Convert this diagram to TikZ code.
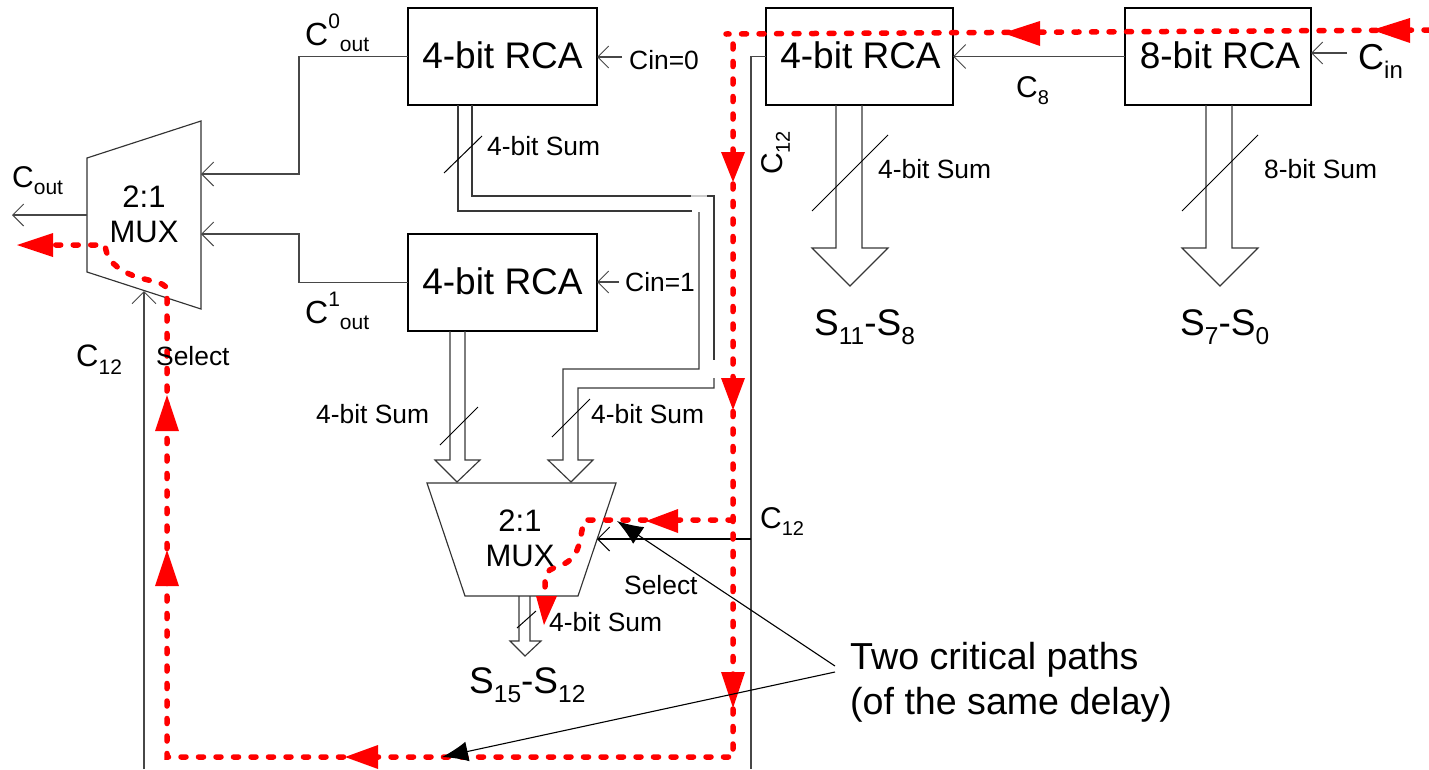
\documentclass[tikz,border=0pt]{standalone}
\usepackage{fontspec}
\setmainfont{Liberation Sans}
\usetikzlibrary{arrows.meta}
\newcommand\fsz[1]{\fontsize{#1}{#1}\selectfont}
\newcommand\lowr[2]{\raisebox{-.26em}{\fsz{#1}#2}}
\newcommand\Sbit[1]{{\fsz{37}S\lowr{24.5}{#1}}}
\tikzset{
  x=1pt,y=-1pt,
  wire/.style={line width=1.15pt,draw=black!72},
  bus/.style={line width=1.15pt,draw=black!78},
  opentip/.style={-{Straight Barb[length=12pt,width=24pt,line width=1pt]}},
  smalltip/.style={-{Straight Barb[length=11pt,width=22pt,line width=1pt]}},
  rca/.style={draw=black,line width=2.6pt,inner sep=0pt,outer sep=0pt,minimum height=97pt},
  rcatext/.style={inner sep=0pt,font=\fsz{37}},
  muxbody/.style={draw=black!80,line width=1.15pt,fill=white},
  muxtext/.style={inner sep=0pt,align=center,font=\fsz{31}},
  lab/.style={anchor=base west,inner sep=0pt,font=\fsz{26.4}},
  redpath/.style={draw=red,line width=5.5pt,line cap=round,dash pattern=on 5pt off 12.5pt},
  redhead/.style={fill=red,draw=none},
  pointer/.style={line width=1.1pt,-{Latex[length=26pt,width=20pt]}}
}
\begin{document}
\begin{tikzpicture}
\useasboundingbox (0,0) rectangle (1429,769);
\clip (0,0) rectangle (1429,769);
% boxes
\node[rca,minimum width=189pt] (rcaA) at (502.5,56.5) {};
\node[rca,minimum width=189pt] (rcaB) at (502.5,282.5) {};
\node[rca,minimum width=187pt] (rcaC) at (859.5,56.5) {};
\node[rca,minimum width=186pt] (rcaD) at (1218,56.5) {};
% muxes
\draw[muxbody] (87,158) -- (201,121) -- (201,309) -- (87,272) -- cycle;
\draw[muxbody] (427,483) -- (616,483) -- (578,596) -- (465,596) -- cycle;
\coordinate (mlIn0) at (201,174);
\coordinate (mlIn1) at (201,234);
\coordinate (mlOut) at (87,215);
\coordinate (mlSel) at (144,291);
\coordinate (mbSel) at (597,539);
\coordinate (bottomL) at (144,769);
\coordinate (c12bot) at (751,769);
\coordinate (coutEnd) at (12,215);
\coordinate (cinA) at (622,57);
\coordinate (cinB) at (619,282);
\coordinate (cinD) at (1347,53);
% wires
\draw[wire,opentip] (rcaA.west) -- (299,56.5) -- (299,174) -- (mlIn0);
\draw[wire,opentip] (rcaB.west) -- (299,282.5) -- (299,234) -- (mlIn1);
\draw[wire,smalltip] (mlOut) -- (coutEnd);
\draw[wire,opentip] (bottomL) -- (mlSel);
\draw[wire,smalltip] (cinA) -- (rcaA.east |- cinA);
\draw[wire,smalltip] (cinB) -- (rcaB.east |- cinB);
\draw[wire,opentip] (rcaD.west) -- (rcaC.east);
\draw[wire,smalltip] (cinD) -- (rcaD.east |- cinD);
\draw[wire] (rcaC.west) -- (751,56.5) -- (c12bot);
\draw[wire,opentip,draw=black] (751,539) -- (mbSel);
% long bus from A to lower MUX
\draw[bus] (458,105) -- (458,211) -- (692,211);
\draw[bus] (472,105) -- (472,196) -- (691,196);
\draw[line width=1.15pt,draw=black!20] (691,196) -- (707,196);
\draw[bus] (707,196) -- (714,196) -- (714,360);
\draw[bus] (699,212) -- (699,369) -- (563,369) -- (563,460) -- (548,460) -- (571,482) -- (593,460) -- (578,460) -- (578,388) -- (714,388) -- (714,378);
% B to lower MUX
\draw[bus] (450,331) -- (450,460) -- (435,460) -- (457,482) -- (480,460) -- (465,460) -- (465,331);
% output of lower MUX
\draw[bus] (519,596) -- (519,641) -- (510,641) -- (525,656) -- (541,641) -- (530,641) -- (530,596);
% outputs of C and D
\draw[bus] (836,105) -- (836,248) -- (812,248) -- (850,286) -- (888,248) -- (862,248) -- (862,105);
\draw[bus] (1206,105) -- (1206,248) -- (1182,248) -- (1220,286) -- (1258,248) -- (1232,248) -- (1232,105);
% slashes
\draw[line width=1pt] (444,173) -- (482,136);
\draw[line width=1pt] (440,445) -- (478,407);
\draw[line width=1pt] (552,437) -- (590,399);
\draw[line width=1pt] (517,628) -- (536,611);
\draw[line width=1pt] (812,211) -- (888,135);
\draw[line width=1pt] (1182,211) -- (1258,135);
% red paths
\draw[redpath] (1429,30) -- (726,34);
\draw[redpath] (733,44) -- (733,757) -- (167,757) -- (167,290)
  .. controls (167,280) and (140,282) .. (122,270)
  .. controls (108,262) and (106,252) .. (105,245) -- (40,245);
\draw[redpath] (733,520) -- (585,520) .. controls (580,530) and (582,550) .. (570,560)
  .. controls (558,570) and (546,565) .. (545,580) -- (545,600);
% red arrowheads
\fill[redhead] (1372,30) -- (1410,18) -- (1410,43) -- cycle;
\fill[redhead] (1003,33) -- (1040,21) -- (1040,46) -- cycle;
\fill[redhead] (733,182) -- (721,152) -- (745,152) -- cycle;
\fill[redhead] (733,410) -- (721,378) -- (745,378) -- cycle;
\fill[redhead] (733,708) -- (721,672) -- (745,672) -- cycle;
\fill[redhead] (345,757) -- (378,745) -- (378,769) -- cycle;
\fill[redhead] (167,550) -- (155,586) -- (179,586) -- cycle;
\fill[redhead] (167,395) -- (155,431) -- (179,431) -- cycle;
\fill[redhead] (17,245) -- (53,233) -- (53,257) -- cycle;
\fill[redhead] (646,521) -- (678,509) -- (678,533) -- cycle;
\fill[redhead] (544,625) -- (536,596) -- (557,596) -- cycle;
% callout
\coordinate (callA) at (835,666);
\coordinate (callB) at (835,672);
\coordinate (tipA) at (617,521);
\coordinate (tipB) at (442,757);
\draw[pointer] (callA) -- (tipA);
\draw[pointer] (callB) -- (tipB);
% texts
\node[rcatext] (tA) at (502.5,55.5) {4-bit RCA};
\node[rcatext] (tB) at (502.5,281.5) {4-bit RCA};
\node[rcatext] (tC) at (860.5,55.5) {4-bit RCA};
\node[rcatext] (tD) at (1220,55.5) {8-bit RCA};
\node[muxtext] (muxL) at (144,214) {2:1\\[4pt]MUX};
\node[muxtext] (muxB) at (520,538) {2:1\\[4pt]MUX};
\node[lab] (s1) at (487,155) {4-bit Sum};
\node[lab] (s2) at (878,178) {4-bit Sum};
\node[lab] (s3) at (316,423) {4-bit Sum};
\node[lab] (s4) at (591,423) {4-bit Sum};
\node[lab] (s5) at (549,631) {4-bit Sum};
\node[lab] (s6) at (1264,178) {8-bit Sum};
\node[lab] (c0) at (629,69) {Cin=0};
\node[lab] (c1) at (625,291) {Cin=1};
\node[lab] (sel1) at (156,365) {Select};
\node[lab] (sel2) at (624,594) {Select};
\node[lab] (c12a) at (76,366) {{\fsz{31}C\lowr{21}{12}}};
\node[lab] (c12b) at (760,528) {{\fsz{30}C\lowr{20}{12}}};
\node[lab,rotate=90] (c12c) at (782,175) {{\fsz{30}C\lowr{20}{12}}};
\node[lab] (c8) at (1016,97) {{\fsz{30}C\lowr{20}{8}}};
\node[lab] (cin) at (1358,69) {{\fsz{36}C\lowr{24}{in}}};
\node[lab] (cout) at (12,187) {{\fsz{30}C\lowr{21}{out}}};
\node[lab] (c0o) at (305,45) {{\fsz{32}C}\raisebox{.62em}{\fsz{21}0}\lowr{21}{out}};
\node[lab] (c1o) at (305,323) {{\fsz{32}C}\raisebox{.62em}{\fsz{21}1}\lowr{21}{out}};
\node[lab] (s118) at (814,335) {\Sbit{11}{\fsz{37}-}\Sbit{8}};
\node[lab] (s70) at (1180,335) {\Sbit{7}{\fsz{37}-}\Sbit{0}};
\node[lab] (s1512) at (469,693) {\Sbit{15}{\fsz{37}-}\Sbit{12}};
\node[lab,font=\fsz{37.6}] (two) at (850,669) {Two critical paths};
\node[lab,font=\fsz{37.6}] (same) at (850,714) {(of the same delay)};
\end{tikzpicture}
\end{document}
